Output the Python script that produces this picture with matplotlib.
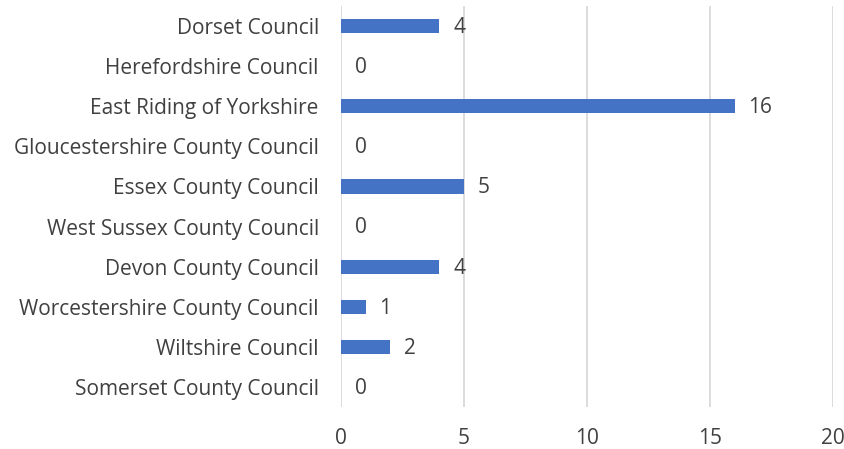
import matplotlib
matplotlib.use("Agg")
import matplotlib.pyplot as plt

councils = [
    "Dorset Council",
    "Herefordshire Council",
    "East Riding of Yorkshire",
    "Gloucestershire County Council",
    "Essex County Council",
    "West Sussex County Council",
    "Devon County Council",
    "Worcestershire County Council",
    "Wiltshire Council",
    "Somerset County Council",
]
counts = [4, 0, 16, 0, 5, 0, 4, 1, 2, 0]
x_ticks = [0, 5, 10, 15, 20]

plt.rcParams["font.family"] = ["Open Sans", "DejaVu Sans"]
text_col = "#404040"
fs = 15

fig = plt.figure(figsize=(8.45, 4.49), dpi=100)
ax = fig.add_axes([0.4036, 0.0935, 0.5822, 0.893])

pos = list(range(len(councils)))
ax.barh(pos, counts, height=0.35, color="#4472C4", zorder=3)
ax.set_ylim(len(councils) - 0.5, -0.5)
ax.set_xlim(0, 20)

for p, v in zip(pos, counts):
    ax.annotate(str(v), (v, p), xytext=(10, -1), textcoords="offset points",
                ha="left", va="center", fontsize=fs, color=text_col)

ax.set_yticks(pos)
ax.set_yticklabels(councils, fontsize=fs, color=text_col)
ax.set_xticks(x_ticks)
ax.set_xticklabels([str(t) for t in x_ticks], fontsize=fs, color=text_col)
ax.tick_params(axis="both", length=0)
ax.tick_params(axis="y", pad=16)
ax.tick_params(axis="x", pad=15)

ax.grid(axis="x", color="#D9D9D9", linewidth=1.3, zorder=0)
for s in ax.spines.values():
    s.set_visible(False)

fig.savefig("out.png", dpi=100)
